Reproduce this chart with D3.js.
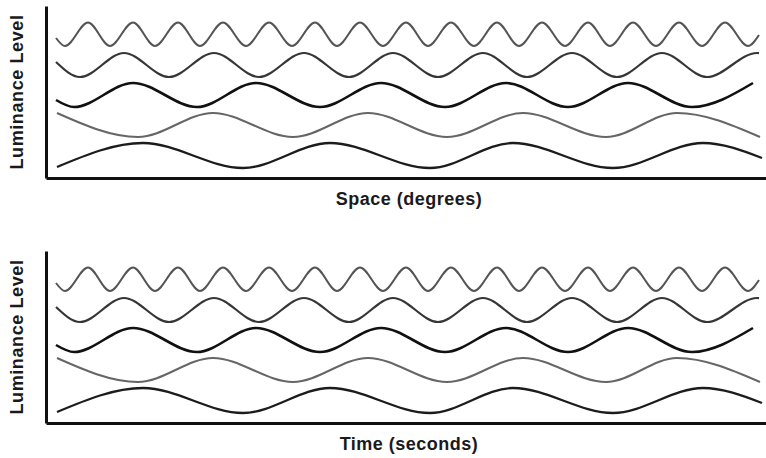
<!DOCTYPE html>
<html>
<head>
<meta charset="utf-8">
<script src="https://cdn.jsdelivr.net/npm/d3@7"></script>
<style>
  body { margin: 0; background: #fff; }
  text { font-family: "Liberation Sans", Arial, sans-serif; font-weight: bold; fill: #1a1a1a; }
</style>
</head>
<body>
<div id="chart"></div>
<script>
// wave points: [position, luminance] at start, extrema, end
var wave1 = [[10,140],[19,132],[42,155.5],[64,132],[87,155.5],[109,132],[132,155.5],[154,132],[177,155.5],[200,132],
             [223,155.5],[246,132],[269,155.5],[291,132],[314,155.5],[337,132],[360,155.5],[382,132],[405,155.5],
             [428,132],[451,155.5],[473,132],[496,155.5],[519,132],[542,155.5],[564,132],[587,155.5],[610,132],
             [633,155.5],[656,132],[679,155.5],[702,132],[713,143]];
var wave2 = [[10,116],[34,101],[78,125],[123,101],[168,125],[213,101],[258,125],[303,101],[347,125],[392,101],
             [437,125],[481,101],[526,125],[571,101],[616,125],[661,101],[711,125],[713,124.8]];
var wave3 = [[10,78],[28,71],[87,95],[151,71],[210,95],[274,71],[335,95],[399,71],[460,95],[522,71],[582,95],
             [646,71],[707,95]];
var wave4 = [[11,65],[92,41],[167,65],[247,41],[322,65],[401,41],[477,65],[560,41],[631,65],[714,41]];
var wave5 = [[11,11],[97,35],[197,10],[284,35],[384,10],[467,35],[567,10],[657,35],[716,20]];

var waves = [wave1, wave2, wave3, wave4, wave5];
var waveColors = ["#555", "#363636", "#111", "#666", "#1c1c1c"];
var waveWidths = [2, 2.2, 2.6, 2, 2.3];

var panels = [
  {top: 0, xlabel: "Space (degrees)"},
  {top: 245, xlabel: "Time (seconds)"}
];

var w = 766;
var h = 458;

var x = d3.scaleLinear().domain([0, 720]).range([46, 766]);
var y = d3.scaleLinear().domain([0, 172]).range([178, 6]);

var line = d3.line()
    .x(d => x(d[0]))
    .y(d => y(d[1]))
    .curve(d3.curveMonotoneX);

var svg = d3.select("#chart")
    .append("svg")
    .attr("width", w)
    .attr("height", h);

panels.forEach(function(p){
    var g = svg.append("g")
        .attr("transform", "translate(0," + p.top + ")");

    g.selectAll("path.wave")
        .data(waves)
        .enter()
        .append("path")
        .attr("class", "wave")
        .attr("fill", "none")
        .attr("stroke", (d,i) => waveColors[i])
        .attr("stroke-width", (d,i) => waveWidths[i])
        .attr("d", d => line(d));

    var xAxis = g.append("g")
        .attr("transform", "translate(0," + y(0) + ")")
        .call(d3.axisBottom(x).ticks(0).tickSizeOuter(0));
    xAxis.select(".domain").attr("stroke", "#111").attr("stroke-width", 3);

    var yAxis = g.append("g")
        .attr("transform", "translate(" + x(0) + ",0)")
        .call(d3.axisLeft(y).ticks(0).tickSizeOuter(0));
    yAxis.select(".domain").attr("stroke", "#111").attr("stroke-width", 3);

    g.append("text")
        .attr("transform", "translate(23," + 92 + ") rotate(-90)")
        .attr("text-anchor", "middle")
        .style("font-size", "18px")
        .style("letter-spacing", "0.6px")
        .text("Luminance Level");

    g.append("text")
        .attr("x", 409)
        .attr("y", 205)
        .attr("text-anchor", "middle")
        .style("font-size", "18px")
        .style("letter-spacing", "0.5px")
        .text(p.xlabel);
});
</script>
</body>
</html>
